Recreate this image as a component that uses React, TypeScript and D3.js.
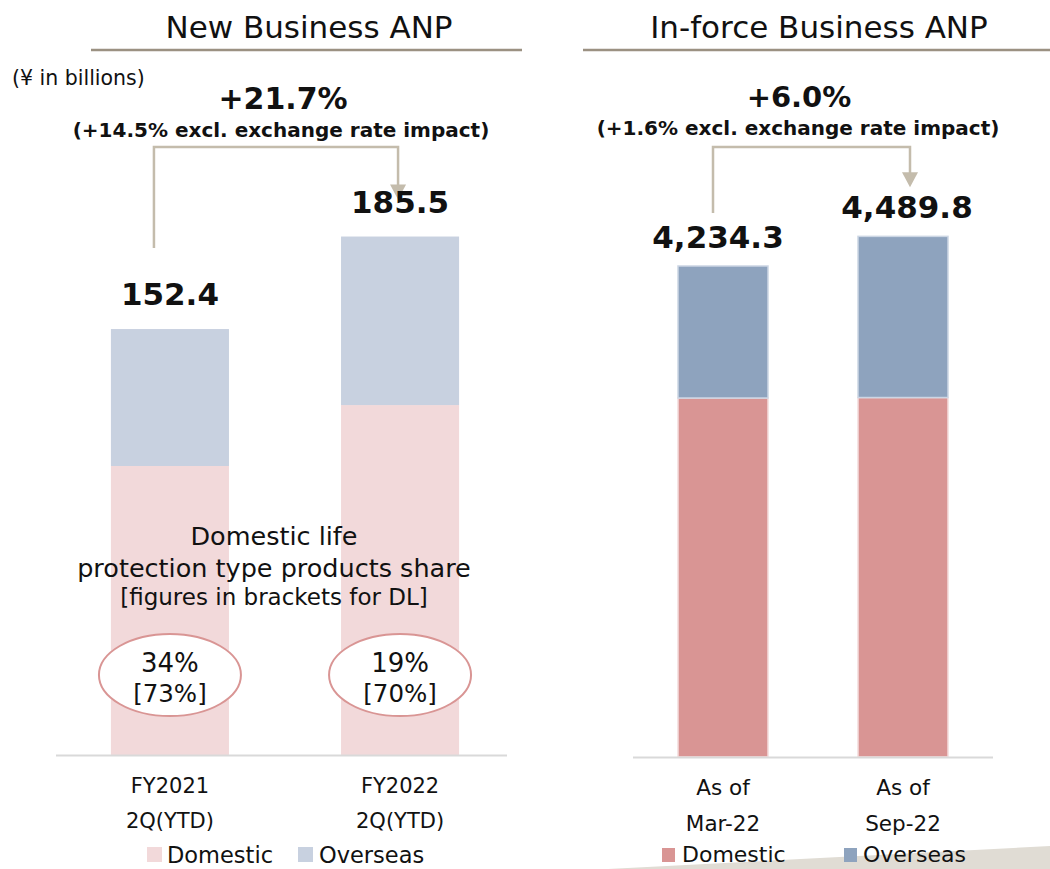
import React from "react";
import * as d3 from "d3";

const newCategories = ["FY2021|2Q(YTD)", "FY2022|2Q(YTD)"];
const newDomestic = [103.4, 125.2];
const newOverseas = [49.0, 60.3];
const newTotals = ["152.4", "185.5"];
const protShare = ["34%", "19%"];
const protShareDL = ["[73%]", "[70%]"];

const inforceCategories = ["As of|Mar-22", "As of|Sep-22"];
const inforceDomestic = [3096, 3100];
const inforceOverseas = [1138.3, 1389.8];
const inforceTotals = ["4,234.3", "4,489.8"];

const seriesNames = ["Domestic", "Overseas"];

const FONT = "'DejaVu Sans', Verdana, sans-serif";

export default function App() {
  const W = 1050, H = 869;

  const xL = d3.scaleBand().domain(newCategories).range([55, 515]).paddingInner(0.487).paddingOuter(0.243);
  const yL = d3.scaleLinear().domain([0, 200]).range([755, 755 - 200 * 2.795]);
  const xR = d3.scaleBand().domain(inforceCategories).range([633, 993]).paddingInner(0.5).paddingOuter(0.25);
  const yR = d3.scaleLinear().domain([0, 5000]).range([757, 757 - 5000 * 0.11596]);

  const cL = ["#F2D9DA", "#C8D1E0"];
  const cR = ["#D99594", "#8EA3BE"];
  const connColor = "#C4BCAC";
  const rightLabelShift = [-5, 4];

  const leftBars = newCategories.map((c, i) => {
    const x = xL(c)!;
    const w = xL.bandwidth();
    const d = newDomestic[i], o = newOverseas[i];
    return { c, x, w, cx: x + w / 2, yDom: yL(d), yTop: yL(d + o), i };
  });
  const rightBars = inforceCategories.map((c, i) => {
    const x = xR(c)!;
    const w = xR.bandwidth();
    const d = inforceDomestic[i], o = inforceOverseas[i];
    return { c, x, w, cx: x + w / 2, yDom: yR(d), yTop: yR(d + o), i };
  });

  const connector = (x1: number, y1: number, x2: number, y2: number, top: number) => {
    const p = d3.path();
    p.moveTo(x1, y1);
    p.lineTo(x1, top);
    p.lineTo(x2, top);
    p.lineTo(x2, y2 - 14);
    return (
      <g>
        <path d={p.toString()} fill="none" stroke={connColor} strokeWidth={2.5} />
        <path d={`M${x2 - 8},${y2 - 15} L${x2 + 8},${y2 - 15} L${x2},${y2} Z`} fill={connColor} />
      </g>
    );
  };

  return (
    <svg width={W} height={H} style={{ position: "absolute", left: 0, top: 0, background: "#fff" }} fontFamily={FONT}>
      <path d={`M608,${H} L${W},846 L${W},${H} Z`} fill="#E0DCD4" />

      <text x={309} y={38} textAnchor="middle" fontSize={31} fill="#111">New Business ANP</text>
      <line x1={91} x2={522} y1={50} y2={50} stroke="#9B9182" strokeWidth={2.5} />
      <text x={819} y={38} textAnchor="middle" fontSize={31} fill="#111">In-force Business ANP</text>
      <line x1={583} x2={1050} y1={50} y2={50} stroke="#9B9182" strokeWidth={2.5} />

      <text x={12} y={85} fontSize={20.5} fill="#111">(¥ in billions)</text>

      <text x={283} y={109} textAnchor="middle" fontSize={30} fontWeight="bold" fill="#111">+21.7%</text>
      <text x={281} y={137} textAnchor="middle" fontSize={20} fontWeight="bold" fill="#111">(+14.5% excl. exchange rate impact)</text>
      <text x={799} y={107} textAnchor="middle" fontSize={29} fontWeight="bold" fill="#111">+6.0%</text>
      <text x={798} y={135} textAnchor="middle" fontSize={20} fontWeight="bold" fill="#111">(+1.6% excl. exchange rate impact)</text>

      {connector(leftBars[0].cx - 16, leftBars[0].yTop - 81, leftBars[1].cx - 2, leftBars[1].yTop - 37, 147)}
      {connector(rightBars[0].cx - 10, rightBars[0].yTop - 53, rightBars[1].cx + 7, rightBars[1].yTop - 49, 147)}

      {leftBars.map((b) => (
        <g key={b.c}>
          <rect x={b.x} y={b.yDom} width={b.w} height={yL(0) - b.yDom} fill={cL[0]} />
          <rect x={b.x} y={b.yTop} width={b.w} height={b.yDom - b.yTop} fill={cL[1]} />
          <text x={b.cx} y={b.yTop - 24} textAnchor="middle" fontSize={31} fontWeight="bold" fill="#111">{newTotals[b.i]}</text>
          {b.c.split("|").map((t, k) => (
            <text key={k} x={b.cx} y={793 + k * 35} textAnchor="middle" fontSize={21} fill="#111">{t}</text>
          ))}
        </g>
      ))}
      <line x1={56} x2={507} y1={755.5} y2={755.5} stroke="#D9D9D9" strokeWidth={2} />

      <text x={274} y={545} textAnchor="middle" fontSize={25.5} fill="#111">Domestic life</text>
      <text x={274} y={577} textAnchor="middle" fontSize={25.5} fill="#111">protection type products share</text>
      <text x={274} y={605} textAnchor="middle" fontSize={23} fill="#111">[figures in brackets for DL]</text>
      {leftBars.map((b) => (
        <g key={"e" + b.c}>
          <ellipse cx={b.cx} cy={675} rx={71} ry={41} fill="#fff" stroke="#D99594" strokeWidth={2} />
          <text x={b.cx} y={672} textAnchor="middle" fontSize={26} fill="#111">{protShare[b.i]}</text>
          <text x={b.cx} y={702} textAnchor="middle" fontSize={24.5} fill="#111">{protShareDL[b.i]}</text>
        </g>
      ))}

      {rightBars.map((b) => (
        <g key={b.c}>
          <rect x={b.x} y={b.yDom} width={b.w} height={yR(0) - b.yDom} fill={cR[0]} stroke="#F4DCDC" strokeWidth={1.5} />
          <rect x={b.x} y={b.yTop} width={b.w} height={b.yDom - b.yTop} fill={cR[1]} stroke="#CCD6E4" strokeWidth={1.5} />
          <text x={b.cx + rightLabelShift[b.i]} y={b.yTop - 18} textAnchor="middle" fontSize={31} fontWeight="bold" fill="#111">{inforceTotals[b.i]}</text>
          {b.c.split("|").map((t, k) => (
            <text key={k} x={b.cx} y={795 + k * 36} textAnchor="middle" fontSize={21.5} fill="#111">{t}</text>
          ))}
        </g>
      ))}
      <line x1={633} x2={993} y1={757.5} y2={757.5} stroke="#D9D9D9" strokeWidth={2} />

      {seriesNames.map((s, i) => (
        <g key={"ll" + s}>
          <rect x={147 + i * 151} y={847} width={15} height={15} fill={cL[i]} />
          <text x={167 + i * 152} y={863} fontSize={22.5} fill="#111">{s}</text>
        </g>
      ))}
      {seriesNames.map((s, i) => (
        <g key={"lr" + s}>
          <rect x={662 + i * 182} y={848} width={13} height={14} fill={cR[i]} />
          <text x={682 + i * 181} y={862} fontSize={22} fill="#111">{s}</text>
        </g>
      ))}
    </svg>
  );
}
